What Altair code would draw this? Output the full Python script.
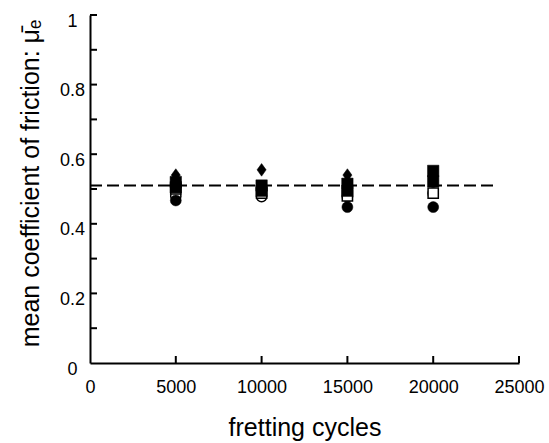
import altair as alt
import pandas as pd

# ---- data ----
cycles = [5000, 10000, 15000, 20000]
diamond_filled = [0.540, 0.555, 0.540, 0.525]
square_filled_a = [0.520, 0.510, 0.515, 0.552]
square_filled_b = [0.505, 0.495, 0.495, 0.522]
square_open = [0.500, 0.488, 0.480, 0.488]
circle_open = [0.480, 0.478, 0.478, 0.488]
circle_filled = [0.467, 0.500, 0.448, 0.448]

ref_x = [0, 23600]
ref_y = [0.51, 0.51]

x_tick_values = [0, 5000, 10000, 15000, 20000, 25000]
y_label_values = [0, 0.2, 0.4, 0.6, 0.8, 1]
y_minor_ticks = [0.1, 0.2, 0.3, 0.4, 0.5, 0.6, 0.7, 0.8, 0.9, 1.0]
x_minor_ticks = [5000, 10000, 15000, 20000, 25000]

FONT = "Liberation Sans"

xscale = alt.Scale(domain=[0, 25000], nice=False, zero=True)
yscale = alt.Scale(domain=[0, 1], nice=False, zero=True)

x_axis = alt.Axis(values=x_tick_values, format="d", ticks=False, grid=False,
                  domainColor="black", domainWidth=2, labelFont=FONT, labelFontSize=18,
                  labelColor="black", labelPadding=15, labelFlush=False,
                  labelOverlap=False, title="fretting cycles", titleFont=FONT,
                  titleFontSize=25, titleFontWeight="normal", titleColor="black",
                  titleY=72, titleBaseline="alphabetic")
y_axis = alt.Axis(values=y_label_values, format="~g", ticks=False, grid=False,
                  domainColor="black", domainWidth=2, labelFont=FONT, labelFontSize=18,
                  labelColor="black", labelAlign="center", labelPadding=18,
                  labelOffset=6, labelFlush=False, labelOverlap=False,
                  title="mean coefficient of friction: \u03bc\u0304\u2091",
                  titleFont=FONT, titleFontSize=25, titleFontWeight="normal",
                  titleColor="black", titleAngle=270, titleX=-52, titleY=168,
                  titleAlign="center", titleBaseline="alphabetic")

ref_line = alt.Chart(pd.DataFrame({"x": ref_x, "y": ref_y})).mark_line(
    color="black", strokeWidth=2, strokeDash=[12, 5]
).encode(x=alt.X("x:Q", scale=xscale, axis=x_axis),
         y=alt.Y("y:Q", scale=yscale, axis=y_axis))


def pts(vals, shape, filled, size):
    return alt.Chart(pd.DataFrame({"x": cycles, "y": vals})).mark_point(
        shape=shape, filled=True, size=size,
        fill="black" if filled else "white",
        stroke="black", strokeWidth=1.5 if not filled else 0.5, opacity=1
    ).encode(x=alt.X("x:Q", scale=xscale), y=alt.Y("y:Q", scale=yscale))


DIAMOND = "M0,-1L0.72,0L0,1L-0.72,0Z"

layers = [
    ref_line,
    pts(circle_open, "circle", False, 105),
    pts(circle_filled, "circle", True, 120),
    pts(square_open, "square", False, 105),
    pts(square_filled_b, "square", True, 130),
    pts(square_filled_a, "square", True, 130),
    pts(diamond_filled, DIAMOND, True, 160),
]

y_ticks = alt.Chart(pd.DataFrame({"y": y_minor_ticks})).mark_tick(
    color="black", thickness=2, size=7, orient="horizontal", opacity=1
).encode(y=alt.Y("y:Q", scale=yscale), x=alt.value(3.5))

x_ticks = alt.Chart(pd.DataFrame({"x": x_minor_ticks})).mark_tick(
    color="black", thickness=2, size=7, orient="vertical", opacity=1
).encode(x=alt.X("x:Q", scale=xscale), y=alt.value(344.5))

chart = alt.layer(*layers, y_ticks, x_ticks).properties(
    width=429, height=348,
    autosize=alt.AutoSizeParams(type="none"),
    padding={"left": 90, "top": 15, "right": 30, "bottom": 80},
    background="white",
).configure_view(stroke=None)

chart.save("out.html", embed_options={"renderer": "svg", "actions": False})
